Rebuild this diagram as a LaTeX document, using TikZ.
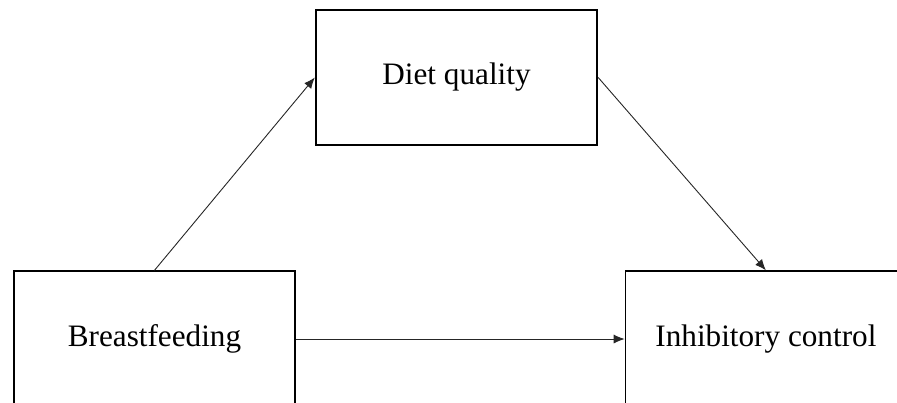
\documentclass[tikz,border=0pt]{standalone}
\usepackage{fontspec}
\setmainfont{Liberation Serif}
\usepackage{tikz}
\usetikzlibrary{arrows.meta, positioning, shapes}
\tikzstyle{block} = [draw, rectangle, line width=0.7pt, minimum height=68pt, minimum width=140.5pt, inner sep=0pt, font=\fontsize{15.6}{18}\selectfont]
\tikzstyle{arrow} = [-{Latex[length=5.5pt, width=4.5pt]}, black!85, line width=0.45pt]

\begin{document}
\begin{tikzpicture}[x=0.5pt, y=-0.5pt]
    \clip (0,0) rectangle (897,402);
    % Place the blocks
    \node [block] (breast) at (154.5,339) {Breastfeeding};
    \node [block, right=164.5pt of breast] (control) {Inhibitory control};
    \node [block, line width=1.2pt, minimum height=67.5pt] (diet) at (456.5,77.5) {Diet quality};

    % Connect the nodes
    \draw [arrow] (breast.north) -- (diet.west);
    \draw [arrow] (diet.east) -- (control.north);
    \draw [arrow] (breast) -- (control);
\end{tikzpicture}
\end{document}
